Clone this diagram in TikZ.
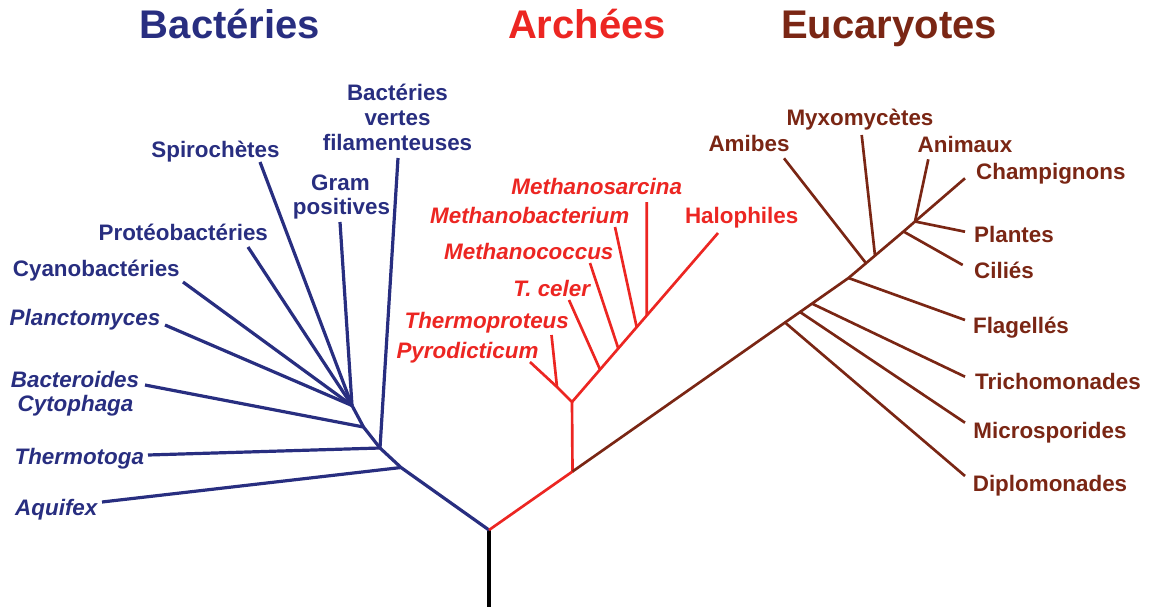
\documentclass[tikz,border=0pt]{standalone}
\usepackage{fontspec}
\setmainfont{Liberation Sans}
\usetikzlibrary{calc}
\definecolor{bacblue}{RGB}{40,46,128}
\definecolor{arcred}{RGB}{236,38,34}
\definecolor{eukbrown}{RGB}{122,38,20}
\tikzset{
  title/.style={font=\fontsize{30}{36}\selectfont\bfseries, anchor=base, inner sep=0pt},
  leaf/.style={font=\fontsize{16.8}{20}\selectfont\bfseries, anchor=base, inner sep=0pt},
  ileaf/.style={font=\fontsize{16.8}{20}\selectfont\bfseries\itshape, anchor=base, inner sep=0pt},
  bacline/.style={draw=bacblue, line width=2.4pt, line join=round},
  arcline/.style={draw=arcred, line width=2pt, line join=round},
  eukline/.style={draw=eukbrown, line width=2pt, line join=round},
  rootline/.style={draw=black, line width=2.6pt},
}
\begin{document}
\begin{tikzpicture}[x=0.75pt, y=-0.75pt]
\useasboundingbox (0,0) rectangle (1156,607);

% ---------- titles ----------
\node[title, text=bacblue]  (tbac) at (230,38.5) {Bactéries};
\node[title, text=arcred]   (tarc) at (587,38.5) {Archées};
\node[title, text=eukbrown] (teuk) at (889,38.5) {Eucaryotes};

% ---------- root ----------
\coordinate (R)  at (489,530);
\coordinate (Rb) at (489,607);
\draw[rootline] (R) -- (Rb);

% ---------- bacteria ----------
\coordinate (b1) at (401,467.5);
\coordinate (b2) at (380,448);
\coordinate (b3) at (363.5,427);
\coordinate (b4) at (352,405.5);
\coordinate (aq) at (102,502);
\coordinate (th) at (148,455);
\coordinate (bc) at (145,385);
\coordinate (pl) at (165,325);
\coordinate (cy) at (183,282);
\coordinate (pr) at (248,247);
\coordinate (sp) at (260,162);
\coordinate (gp) at (340,222);
\coordinate (bv) at (398,158);

\draw[bacline] (R) -- (b1) -- (b2) -- (b3) -- (b4);
\draw[bacline] (b1) -- (aq);
\draw[bacline] (b2) -- (th);
\draw[bacline] (b2) -- (bv);
\draw[bacline] (b3) -- (bc);
\draw[bacline] (b4) -- (pl);
\draw[bacline] (b4) -- (cy);
\draw[bacline] (b4) -- (pr);
\draw[bacline] (b4) -- (sp);
\draw[bacline] (b4) -- (gp);

\begin{scope}[text=bacblue]
\node[leaf] (lbv1) at (397.5,100.5) {Bactéries};
\node[leaf] (lbv2) at (397.5,125.5) {vertes};
\node[leaf] (lbv3) at (397.5,150.5) {filamenteuses};
\node[leaf] (lgp1) at (340.5,190) {Gram};
\node[leaf] (lgp2) at (341.5,214) {positives};
\node[leaf] (lsp) at (215.5,157.5) {Spirochètes};
\node[leaf] (lpr) at (183.3,240.5) {Protéobactéries};
\node[leaf] (lcy) at (96.3,276.7) {Cyanobactéries};
\node[ileaf] (lpl) at (85,325) {Planctomyces};
\node[ileaf] (lbc1) at (75,387.3) {Bacteroides};
\node[ileaf] (lbc2) at (75.5,411.7) {Cytophaga};
\node[ileaf] (lth) at (79.3,464) {Thermotoga};
\node[ileaf] (laq) at (56.3,515) {Aquifex};
\end{scope}

% ---------- archaea ----------
\coordinate (a0) at (572.5,471.5);
\coordinate (a1) at (572,402);
\coordinate (a2) at (557,387);
\coordinate (py) at (530,362);
\coordinate (tp) at (551.5,335);
\coordinate (ha) at (718,233);
\coordinate (jtc) at ($(a1)!0.192!(ha)$);
\coordinate (jmc) at ($(a1)!0.317!(ha)$);
\coordinate (jmb) at ($(a1)!0.443!(ha)$);
\coordinate (jms) at ($(a1)!0.512!(ha)$);
\coordinate (tc) at (569,300);
\coordinate (mc) at (590,263);
\coordinate (mb) at (615,227);
\coordinate (ms) at (646.7,202);

\draw[arcline] (R) -- (a0) -- (a1) -- (a2) -- (py);
\draw[arcline] (a2) -- (tp);
\draw[arcline] (a1) -- (ha);
\draw[arcline] (jtc) -- (tc);
\draw[arcline] (jmc) -- (mc);
\draw[arcline] (jmb) -- (mb);
\draw[arcline] (jms) -- (ms);

\begin{scope}[text=arcred]
\node[ileaf] (lms) at (596.7,194.3) {Methanosarcina};
\node[ileaf] (lmb) at (529.7,223.3) {Methanobacterium};
\node[ileaf] (lmc) at (528.8,259.3) {Methanococcus};
\node[ileaf] (ltc) at (551.7,296.7) {T. celer};
\node[ileaf] (ltp) at (486.7,328.3) {Thermoproteus};
\node[ileaf] (lpy) at (467.5,358.3) {Pyrodicticum};
\node[leaf]  (lha) at (741.7,223.3) {Halophiles};
\end{scope}

% ---------- eukaryotes ----------
\coordinate (e1) at (785,322.5);
\coordinate (e2) at (800,312);
\coordinate (e3) at (812,303.6);
\coordinate (e4) at (848.5,278);
\coordinate (e5) at (866,263.2);
\coordinate (e6) at (875,255.6);
\coordinate (e7) at (903.5,231.5);
\coordinate (e8) at (915,221.5);
\coordinate (ch) at (965,178.3);
\coordinate (dp) at (965,476);
\coordinate (mi) at (965,422.7);
\coordinate (tr) at (965,376.7);
\coordinate (fl) at (965,320);
\coordinate (ci) at (962.7,265);
\coordinate (pla) at (965,231.7);
\coordinate (an) at (928.3,159.3);
\coordinate (my) at (861.7,135);
\coordinate (am) at (784,158.3);

\draw[eukline] (a0) -- (e1) -- (e2) -- (e3) -- (e4) -- (e5) -- (e6) -- (e7) -- (e8) -- (ch);
\draw[eukline] (e1) -- (dp);
\draw[eukline] (e2) -- (mi);
\draw[eukline] (e3) -- (tr);
\draw[eukline] (e4) -- (fl);
\draw[eukline] (e5) -- (am);
\draw[eukline] (e6) -- (my);
\draw[eukline] (e7) -- (ci);
\draw[eukline] (e8) -- (pla);
\draw[eukline] (e8) -- (an);

\begin{scope}[text=eukbrown]
\node[leaf] (lmy) at (860,125) {Myxomycètes};
\node[leaf] (lam) at (749,151) {Amibes};
\node[leaf] (lan) at (965,152.7) {Animaux};
\node[leaf] (lch) at (1050.8,179.3) {Champignons};
\node[leaf] (lpla) at (1014,242.7) {Plantes};
\node[leaf] (lci) at (1004,278.3) {Ciliés};
\node[leaf] (lfl) at (1021,333.3) {Flagellés};
\node[leaf] (ltr) at (1058,389.3) {Trichomonades};
\node[leaf] (lmi) at (1050,438.3) {Microsporides};
\node[leaf] (ldp) at (1050,491.7) {Diplomonades};
\end{scope}
\end{tikzpicture}
\end{document}
